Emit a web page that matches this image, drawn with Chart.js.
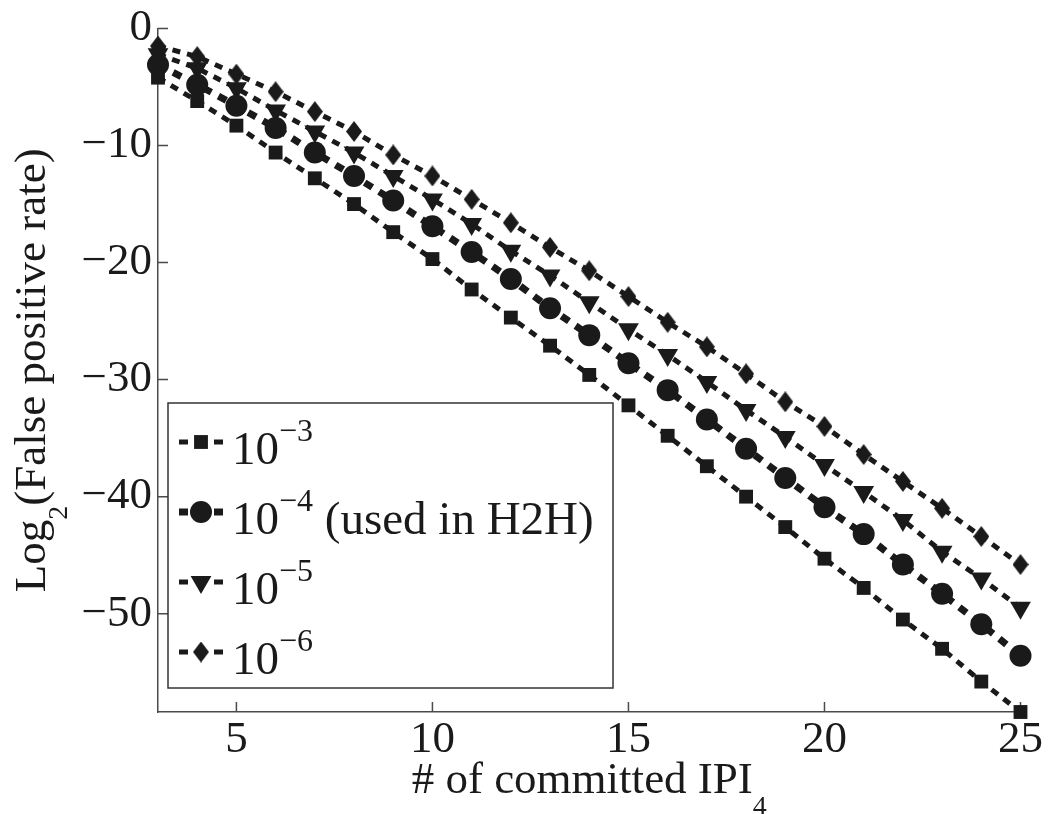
<!DOCTYPE html>
<html>
<head>
<meta charset="utf-8">
<script src="https://cdn.jsdelivr.net/npm/chart.js@4.4.1/dist/chart.umd.min.js"></script>
<style>
  html, body { margin: 0; background: #fff; }
  canvas { display: block; }
</style>
</head>
<body>
<canvas id="fpChart" width="1049" height="814"></canvas>
<script>
// Log2 false positive rate vs number of committed IPI_4

const ipiCounts = [3, 4, 5, 6, 7, 8, 9, 10, 11, 12, 13, 14, 15, 16, 17, 18, 19, 20, 21, 22, 23, 24, 25];
const rate1e3 = [-4.2, -6.2, -8.3, -10.6, -12.8, -15.0, -17.4, -19.7, -22.3, -24.7, -27.1, -29.6, -32.2, -34.8, -37.4, -40.0, -42.6, -45.3, -47.8, -50.5, -53.0, -55.8, -58.4];
const rate1e4 = [-3.1, -4.8, -6.6, -8.5, -10.6, -12.6, -14.7, -16.9, -19.1, -21.4, -23.9, -26.2, -28.6, -30.9, -33.4, -35.9, -38.4, -40.9, -43.2, -45.8, -48.3, -50.9, -53.6];
const rate1e5 = [-2.2, -3.4, -5.1, -7.0, -8.8, -10.6, -12.6, -14.6, -16.7, -19.0, -21.1, -23.4, -25.7, -27.9, -30.2, -32.6, -34.9, -37.3, -39.6, -42.0, -44.7, -47.0, -49.5];
const rate1e6 = [-1.5, -2.4, -3.9, -5.4, -7.1, -8.8, -10.8, -12.6, -14.6, -16.6, -18.7, -20.7, -22.9, -25.1, -27.2, -29.5, -31.9, -34.0, -36.4, -38.7, -41.0, -43.4, -45.8];

const xTickValues = [5, 10, 15, 20, 25];
const yTickValues = [0, -10, -20, -30, -40, -50];
const legendBase = ['10', '10', '10', '10'];
const legendExp = ['\u22123', '\u22124', '\u22125', '\u22126'];
const legendNote = ['', ' (used in H2H)', '', ''];

const SERIF = '"Liberation Serif", "Times New Roman", serif';
const INK = '#1a1a1a';
const AXIS = '#4a4a4a';

// narrow diamond marker (taller than wide, like the matlab one)
function makeDiamond(w, h) {
  const c = document.createElement('canvas');
  c.width = w;
  c.height = h;
  const g = c.getContext('2d');
  g.fillStyle = INK;
  g.beginPath();
  g.moveTo(w / 2, 0);
  g.lineTo(w, h / 2);
  g.lineTo(w / 2, h);
  g.lineTo(0, h / 2);
  g.closePath();
  g.fill();
  return c;
}
const diamond = makeDiamond(16, 21);

function series(values, style, radius, width, dash, rotation) {
  return {
    data: values,
    borderColor: INK,
    backgroundColor: INK,
    borderWidth: width,
    borderDash: dash,
    borderCapStyle: 'butt',
    pointStyle: style,
    pointRotation: rotation || 0,
    pointRadius: radius,
    pointBackgroundColor: INK,
    pointBorderWidth: 0,
    tension: 0,
    clip: false
  };
}

const datasets = [
  series(rate1e3, 'rect', 9.8, 5, [8, 7]),
  series(rate1e4, 'circle', 11, 7, [9, 8]),
  series(rate1e5, 'triangle', 12, 5, [8, 7], 180),
  series(rate1e6, diamond, 10, 5, [8, 7])
];

// rich text: runs of {text, size, shift}
function runsWidth(ctx, runs) {
  let w = 0;
  runs.forEach(r => {
    ctx.font = r.size + 'px ' + SERIF;
    w += ctx.measureText(r.text).width;
  });
  return w;
}

function drawRuns(ctx, runs, x, y) {
  let cx = x;
  runs.forEach(r => {
    ctx.font = r.size + 'px ' + SERIF;
    ctx.fillText(r.text, cx, y + (r.shift || 0));
    cx += ctx.measureText(r.text).width;
  });
}

function drawMarker(ctx, ds, x, y) {
  const opts = { pointStyle: ds.pointStyle, rotation: ds.pointRotation, radius: ds.pointRadius, borderWidth: 0 };
  ctx.fillStyle = INK;
  Chart.helpers.drawPoint(ctx, opts, x, y);
}

const decorPlugin = {
  id: 'decor',
  beforeDatasetsDraw(chart) {
    // inward tick marks
    const ctx = chart.ctx;
    const area = chart.chartArea;
    const xs = chart.scales.x;
    const ys = chart.scales.y;
    ctx.save();
    ctx.strokeStyle = AXIS;
    ctx.lineWidth = 1.5;
    ctx.beginPath();
    xTickValues.forEach(v => {
      const px = xs.getPixelForValue(v);
      ctx.moveTo(px, area.bottom);
      ctx.lineTo(px, area.bottom - 10);
    });
    yTickValues.forEach(v => {
      const py = ys.getPixelForValue(v);
      ctx.moveTo(area.left, py);
      ctx.lineTo(area.left + 10, py);
    });
    ctx.stroke();
    ctx.restore();
  },
  afterDraw(chart) {
    const ctx = chart.ctx;
    const area = chart.chartArea;
    ctx.save();
    ctx.fillStyle = INK;
    ctx.textBaseline = 'alphabetic';
    ctx.textAlign = 'left';

    // x axis title
    const xRuns = [
      { text: '# of committed IPI', size: 45 },
      { text: '4', size: 28, shift: 22 }
    ];
    const xw = runsWidth(ctx, xRuns);
    drawRuns(ctx, xRuns, (area.left + area.right) / 2 - xw / 2, 793);

    // y axis title
    const yRuns = [
      { text: 'Log', size: 45 },
      { text: '2', size: 28, shift: 22 },
      { text: '(False positive rate)', size: 45 }
    ];
    const yw = runsWidth(ctx, yRuns);
    ctx.save();
    ctx.translate(45, (area.top + area.bottom) / 2);
    ctx.rotate(-Math.PI / 2);
    drawRuns(ctx, yRuns, -yw / 2, 0);
    ctx.restore();

    // legend box
    const box = { left: 168, top: 403, right: 613, bottom: 688 };
    ctx.fillStyle = '#fff';
    ctx.fillRect(box.left, box.top, box.right - box.left, box.bottom - box.top);
    ctx.strokeStyle = '#333';
    ctx.lineWidth = 1.5;
    ctx.strokeRect(box.left, box.top, box.right - box.left, box.bottom - box.top);

    chart.data.datasets.forEach((ds, i) => {
      const my = 442 + i * 70;
      // line sample: dash - marker - dash
      ctx.strokeStyle = INK;
      ctx.lineWidth = ds.borderWidth;
      ctx.setLineDash([]);
      ctx.beginPath();
      ctx.moveTo(179, my);
      ctx.lineTo(188, my);
      ctx.moveTo(214, my);
      ctx.lineTo(223, my);
      ctx.stroke();
      drawMarker(ctx, ds, 201, my);

      ctx.fillStyle = INK;
      const runs = [
        { text: legendBase[i], size: 47 },
        { text: legendExp[i], size: 32, shift: -23 }
      ];
      if (legendNote[i]) runs.push({ text: legendNote[i], size: 47 });
      drawRuns(ctx, runs, 232, my + 22);
    });
    ctx.restore();
  }
};

new Chart(document.getElementById('fpChart'), {
  type: 'line',
  data: {
    labels: ipiCounts,
    datasets: datasets.map(ds => Object.assign(ds, {
      data: ds.data.map((v, k) => ({ x: ipiCounts[k], y: v }))
    }))
  },
  options: {
    responsive: false,
    animation: false,
    events: [],
    layout: { padding: { left: 0, top: 24, right: 26, bottom: 0 } },
    scales: {
      x: {
        type: 'linear',
        min: 3,
        max: 25,
        afterBuildTicks: axis => { axis.ticks = xTickValues.map(v => ({ value: v })); },
        afterFit: axis => { axis.height = 102; },
        grid: { display: false, drawTicks: false },
        border: { display: true, color: AXIS, width: 1.5 },
        ticks: {
          color: INK,
          padding: 6,
          maxRotation: 0,
          autoSkip: false,
          font: { family: SERIF, size: 45, lineHeight: 1 }
        }
      },
      y: {
        type: 'linear',
        min: -58.4,
        max: 0,
        afterBuildTicks: axis => { axis.ticks = yTickValues.map(v => ({ value: v })); },
        afterFit: axis => { axis.width = 158; },
        grid: { display: false, drawTicks: false },
        border: { display: true, color: AXIS, width: 1.5 },
        ticks: {
          color: INK,
          padding: 6,
          autoSkip: false,
          font: { family: SERIF, size: 45, lineHeight: 1 },
          callback: v => String(v).replace('-', '\u2212')
        }
      }
    },
    plugins: {
      legend: { display: false },
      tooltip: { enabled: false }
    }
  },
  plugins: [decorPlugin]
});
</script>
</body>
</html>
